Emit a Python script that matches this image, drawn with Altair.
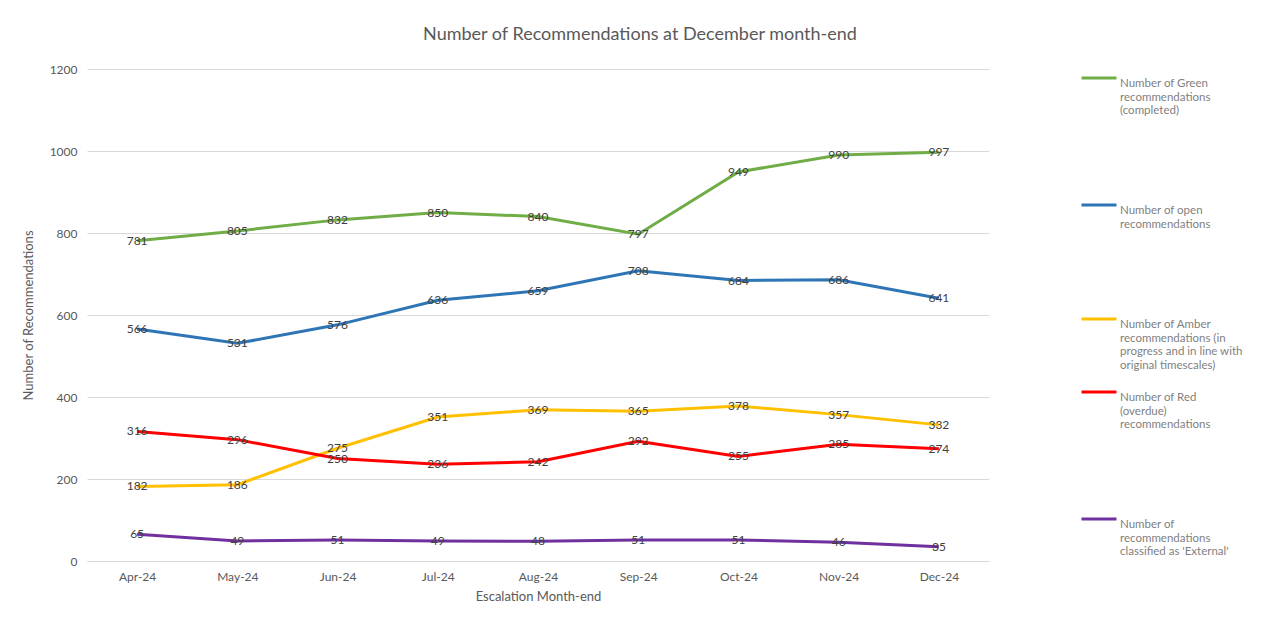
import altair as alt
import pandas as pd

months = ["Apr-24", "May-24", "Jun-24", "Jul-24", "Aug-24", "Sep-24", "Oct-24", "Nov-24", "Dec-24"]
green = [781, 805, 832, 850, 840, 797, 949, 990, 997]
open_ = [566, 531, 576, 636, 659, 708, 684, 686, 641]
amber = [182, 186, 275, 351, 369, 365, 378, 357, 332]
red = [316, 296, 250, 236, 242, 292, 255, 285, 274]
external = [65, 49, 51, 49, 48, 51, 51, 46, 35]

# '|' marks a line break in the legend labels (trailing breaks add the legend's spacing)
series_names = [
    "Number of Green|recommendations|(completed)|||||",
    "Number of open|recommendations|||||",
    "Number of Amber|recommendations (in|progress and in line with|original timescales)",
    "Number of Red|(overdue)|recommendations|||||",
    "Number of|recommendations|classified as 'External'",
]
series_values = [green, open_, amber, red, external]
colors = ["#70AD47", "#2E75B6", "#FFC000", "#FF0000", "#7030A0"]

rows = []
for name, vals in zip(series_names, series_values):
    for m, v in zip(months, vals):
        rows.append({"Month": m, "Series": name, "Value": v})
df = pd.DataFrame(rows)

font = "Lato"

x = alt.X("Month:N", sort=months, scale=alt.Scale(type="point", padding=0.5),
          axis=alt.Axis(title="Escalation Month-end", labelAngle=0, ticks=False,
                        domainColor="#d9d9d9", labelColor="#595959", labelFontSize=12,
                        labelPadding=10, titleColor="#595959", titleFontSize=13,
                        titleFontWeight="normal", titlePadding=8, grid=False, labelFont=font,
                        titleFont=font))
y = alt.Y("Value:Q", scale=alt.Scale(domain=[0, 1200]),
          axis=alt.Axis(title="Number of Recommendations", values=[0, 200, 400, 600, 800, 1000, 1200],
                        format="d", ticks=False, domain=False, gridColor="#d9d9d9", labelColor="#595959",
                        labelFontSize=12, labelPadding=10, titleColor="#595959", titleFontSize=13,
                        titleFontWeight="normal", titlePadding=14, labelFont=font, titleFont=font))

color = alt.Color("Series:N", sort=series_names,
                  scale=alt.Scale(domain=series_names, range=colors),
                  legend=alt.Legend(title=None, orient="none", legendX=993, legendY=-10,
                                    symbolType="stroke", symbolStrokeWidth=3, symbolSize=1225,
                                    labelExpr="split(datum.label, '|')", labelFontSize=11.5,
                                    labelColor="#7f7f7f", labelFont=font, rowPadding=2,
                                    labelLimit=200, labelBaseline="top", labelOffset=2))

lines = alt.Chart(df).mark_line(strokeWidth=3).encode(x=x, y=y, color=color)
labels = alt.Chart(df).mark_text(fontSize=12, color="#404040", font=font).encode(
    x=alt.X("Month:N", sort=months), y="Value:Q", text="Value:Q")

chart = alt.layer(lines, labels).properties(
    width=902, height=492,
    title=alt.TitleParams("Number of Recommendations at December month-end", fontSize=18,
                          color="#595959", fontWeight="normal", font=font, dx=102, offset=15),
    autosize=alt.AutoSizeParams(type="none"),
    padding={"left": 87, "top": 69, "right": 280, "bottom": 59},
).configure_view(stroke=None)

chart.save("out.html", embed_options={"renderer": "svg", "actions": False})
